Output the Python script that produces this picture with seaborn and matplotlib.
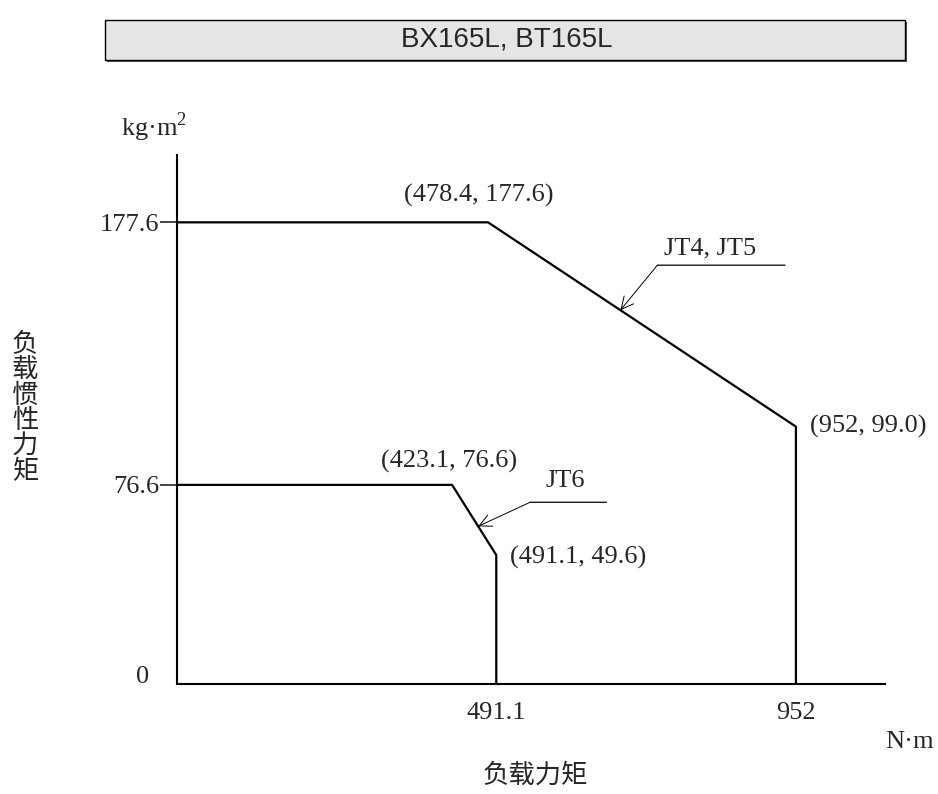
# Load inertia vs load torque - BX165L, BT165L
import numpy as np
import matplotlib.pyplot as plt
import matplotlib.patches as patches
from matplotlib.transforms import offset_copy
import seaborn as sns

# Data
jt45_x = [0, 478.4, 952, 952]
jt45_y = [177.6, 177.6, 99.0, 0]
jt6_x = [0, 423.1, 491.1, 491.1]
jt6_y = [76.6, 76.6, 49.6, 0]

x_ticks = [491.1, 952]
x_tick_labels = ['491.1', '952']
y_ticks = [0, 76.6, 177.6]
y_tick_labels = ['', '76.6', '177.6']

title = 'BX165L, BT165L'
x_label = '负载力矩'
y_label = '负载惯性力矩'

sns.set_style('white')
plt.rcParams['font.family'] = ['Liberation Serif', 'DejaVu Serif']
plt.rcParams['mathtext.fontset'] = 'custom'
plt.rcParams['mathtext.rm'] = 'Liberation Serif'
cjk = ['Noto Sans CJK SC', 'DejaVu Sans']
fs = 19

fig = plt.figure(figsize=(9.38, 7.94), dpi=100)
W, H = 938, 794
ax = fig.add_axes([177 / W, (H - 684) / H, 708 / W, 529 / H])

sns.lineplot(x=jt45_x, y=jt45_y, sort=False, estimator=None, color='black', lw=1.6, ax=ax)
sns.lineplot(x=jt6_x, y=jt6_y, sort=False, estimator=None, color='black', lw=1.6, ax=ax)

ax.set_xlim(0, 1089)
ax.set_ylim(0, 203.5)
sns.despine(ax=ax)
for s in ['left', 'bottom']:
    ax.spines[s].set_linewidth(1.5)
    ax.spines[s].set_color('black')

ax.set_xticks(x_ticks)
ax.set_xticklabels(x_tick_labels, fontsize=fs)
ax.set_yticks(y_ticks)
ax.set_yticklabels(y_tick_labels, fontsize=fs)
ax.tick_params(axis='x', length=0, pad=13)
ax.tick_params(axis='y', length=12, width=1.2, direction='out', pad=1, left=True)
ax.yaxis.get_major_ticks()[0].tick1line.set_visible(False)
ax.grid(False)
# origin label sits a bit above the axis, as in the drawing
ax.annotate('0', xy=(0, 0), xytext=(-24.5, 5), textcoords='offset points',
            ha='center', va='center', fontsize=fs)

# point labels
pts = [((478.4, 177.6), '(478.4, 177.6)', (-7, 19.5), 'center'),
       ((423.1, 76.6), '(423.1, 76.6)', (-2, 17), 'center'),
       ((491.1, 49.6), '(491.1, 49.6)', (10, -1.5), 'left'),
       ((952, 99.0), '(952, 99.0)', (10, 0), 'left')]
for xy, txt, off, ha in pts:
    ax.annotate(txt, xy=xy, xytext=off, textcoords='offset points',
                ha=ha, va='center', fontsize=fs)

# series callouts
def callout(xs, ys, i, t, name, tail, line_len, text_off):
    tip = (xs[i] + t * (xs[i + 1] - xs[i]), ys[i] + t * (ys[i + 1] - ys[i]))
    ax.annotate('', xy=tip, xytext=tail, textcoords='offset points',
                arrowprops=dict(arrowstyle='->', lw=0.7, color='black',
                                shrinkA=0, shrinkB=0, mutation_scale=22))
    tr = offset_copy(ax.transData, fig=fig, x=tail[0], y=tail[1], units='points')
    ax.annotate('', xy=tip, xycoords=tr, xytext=(line_len, 0), textcoords='offset points',
                arrowprops=dict(arrowstyle='-', lw=0.9, color='black', shrinkA=0, shrinkB=0))
    ax.annotate(name, xy=tip, xytext=(tail[0] + text_off[0], tail[1] + text_off[1]),
                textcoords='offset points', ha='center', va='center', fontsize=fs)

callout(jt45_x, jt45_y, 1, 0.43, 'JT4, JT5', (26.6, 32.4), 92, (38, 12))
callout(jt6_x, jt6_y, 1, 0.59, 'JT6', (37.4, 17.3), 55, (25, 15))

# units and axis titles
fig.text(154 / W, 1 - 127 / H, 'kg·m$^{2}$', ha='center', va='center', fontsize=fs)
fig.text(910 / W, 1 - 742 / H, 'N·m', ha='center', va='center', fontsize=fs)
fig.text(535 / W, 1 - 775 / H, x_label, ha='center', va='center', fontsize=fs, family=cjk)
fig.text(25 / W, 1 - 408 / H, '\n'.join(y_label), ha='center', va='center',
         fontsize=fs, family=cjk, linespacing=0.92)

# title box
fig.patches.append(patches.Rectangle((107 / W, 1 - 62 / H), 800 / W, 40 / H,
                                     transform=fig.transFigure, facecolor='#555555',
                                     edgecolor='none', zorder=0))
fig.patches.append(patches.Rectangle((105 / W, 1 - 60 / H), 800 / W, 40 / H,
                                     transform=fig.transFigure, facecolor='#e5e5e5',
                                     edgecolor='black', lw=1.0, zorder=1))
fig.text(507 / W, 1 - 40 / H, title, ha='center', va='center', fontsize=20,
         family=['Liberation Sans', 'DejaVu Sans'])

fig.savefig('out.png', dpi=100)
